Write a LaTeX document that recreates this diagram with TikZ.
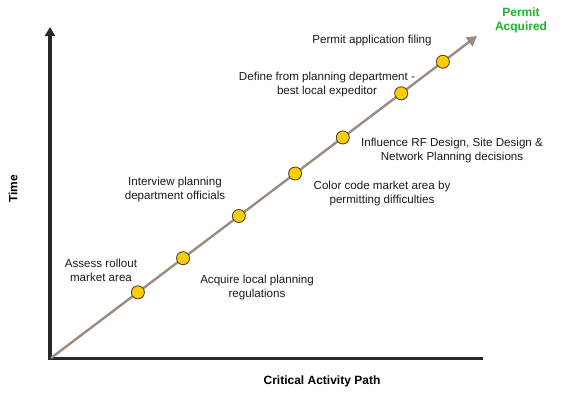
\documentclass[tikz,border=0pt]{standalone}
\usepackage{fontspec}
\setmainfont{Liberation Sans}
\usetikzlibrary{arrows.meta,calc}
\definecolor{pathc}{RGB}{155,140,128}
\definecolor{dotc}{RGB}{255,204,0}
\definecolor{dotb}{RGB}{80,70,50}
\definecolor{axisc}{RGB}{40,40,40}
\definecolor{greenc}{RGB}{30,180,40}
\definecolor{txtc}{RGB}{25,25,35}
\tikzset{
  milestone/.style={circle,draw=dotb,fill=dotc,line width=0.9pt,minimum size=13pt,inner sep=0pt},
  lbl/.style={align=center,text=txtc,font=\fontsize{11.6}{14}\selectfont,inner sep=0pt},
  axislbl/.style={text=black,font=\fontsize{12}{14}\selectfont\bfseries,inner sep=0pt},
  axisline/.style={draw=axisc,line width=3.6pt,-{Triangle[length=9pt,width=10pt]}},
  pathline/.style={draw=pathc,line width=2.4pt,-{Triangle[length=10pt,width=11pt]}}
}
\begin{document}
\begin{tikzpicture}[x=1pt,y=-1pt]
\useasboundingbox (0,0) rectangle (565,397);
\coordinate (O) at (50,358.5);
\coordinate (Ytip) at (50,27);
\coordinate (Xend) at (483,358.5);
\coordinate (P0) at (51,358);
\coordinate (T) at (477,36);
% axes
\draw[draw=axisc,line width=3.6pt] (Xend) -- (48.2,358.5);
\draw[axisline] (50,360.3) -- (Ytip);
% path
\draw[pathline] (P0) -- (T);
\node[milestone] (d1) at ($(P0)!0.204!(T)$) {};
\node[milestone] (d2) at ($(P0)!0.310!(T)$) {};
\node[milestone] (d3) at ($(P0)!0.441!(T)$) {};
\node[milestone] (d4) at ($(P0)!0.573!(T)$) {};
\node[milestone] (d5) at ($(P0)!0.685!(T)$) {};
\node[milestone] (d6) at ($(P0)!0.822!(T)$) {};
\node[milestone] (d7) at ($(P0)!0.920!(T)$) {};
% labels
\node[lbl] (l1) at (101,270) {Assess rollout\\market area};
\node[lbl] (l2) at (257,287) {Acquire local planning\\regulations};
\node[lbl] (l3) at (175,189) {Interview planning\\department officials};
\node[lbl] (l4) at (382,193) {Color code market area by\\permitting difficulties};
\node[lbl] (l5) at (452,150) {Influence RF Design, Site Design \&\\Network Planning decisions};
\node[lbl] (l6) at (327,84) {Define from planning department -\\best local expeditor};
\node[lbl] (l7) at (372,40) {Permit application filing};
\node[axislbl,text=greenc,align=center] (pa) at (521,20) {Permit\\Acquired};
\node[axislbl,rotate=90] (time) at (13,189) {Time};
\node[axislbl] (cap) at (322,381) {Critical Activity Path};
\end{tikzpicture}
\end{document}
